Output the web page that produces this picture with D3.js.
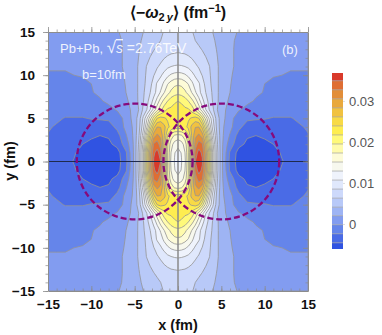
<!DOCTYPE html>
<html>
<head>
<meta charset="utf-8">
<script src="https://cdn.jsdelivr.net/npm/d3@7"></script>
<style>
  html, body { margin: 0; padding: 0; background: #fff; }
  svg { display: block; font-family: "Liberation Sans", Arial, sans-serif; }
</style>
</head>
<body>
<div id="chart"></div>
<script>
// values, upper right quadrant (the field is close to mirror symmetric)
const gridX = [0, .4, .8, 1.2, 1.6, 2, 2.4, 2.8, 3.2, 3.6, 4, 4.5, 5, 5.5, 6, 7, 8, 9, 10, 11, 12, 13, 14, 15];
const gridY = [0, 1, 2, 3, 4, 5, 6, 7, 8, 9, 10, 11, 12, 13, 14, 15];
const rows = [
  [.0118,.0128,.0145,.0195,.0268,.0349,.0368,.0352,.0305,.0239,.0151,.0072,.0028,-.0002,-.0030,-.0056,-.0060,-.0062,-.0060,-.0056,-.0047,-.0040,-.0036,-.0034],
  [.0122,.0130,.0150,.0195,.0262,.0336,.0358,.0345,.0298,.0232,.0150,.0072,.0028,.0000,-.0027,-.0054,-.0059,-.0060,-.0058,-.0053,-.0044,-.0038,-.0034,-.0032],
  [.0135,.0142,.0160,.0198,.0255,.0315,.0338,.0330,.0280,.0215,.0140,.0068,.0028,.0004,-.0012,-.0040,-.0050,-.0050,-.0049,-.0046,-.0040,-.0034,-.0030,-.0030],
  [.0165,.0170,.0185,.0215,.0265,.0300,.0310,.0295,.0250,.0185,.0120,.0062,.0028,.0010,-.0004,-.0032,-.0044,-.0046,-.0044,-.0040,-.0036,-.0032,-.0028,-.0025],
  [.0228,.0228,.0232,.0245,.0268,.0282,.0283,.0255,.0205,.0150,.0100,.0056,.0028,.0014,.0004,-.0018,-.0034,-.0034,-.0032,-.0032,-.0031,-.0029,-.0026,-.0022],
  [.0232,.0232,.0233,.0236,.0242,.0248,.0240,.0205,.0165,.0125,.0090,.0052,.0030,.0018,.0006,-.0014,-.0020,-.0022,-.0023,-.0025,-.0025,-.0025,-.0021,-.0018],
  [.0225,.0224,.0221,.0220,.0208,.0188,.0165,.0138,.0108,.0085,.0068,.0042,.0030,.0020,.0010,.0000,-.0008,-.0012,-.0015,-.0017,-.0017,-.0017,-.0014,-.0012],
  [.0217,.0214,.0207,.0195,.0180,.0162,.0138,.0115,.0095,.0078,.0062,.0044,.0033,.0024,.0016,.0006,.0002,-.0004,-.0008,-.0012,-.0013,-.0013,-.0011,-.0010],
  [.0188,.0185,.0178,.0165,.0150,.0132,.0115,.0098,.0085,.0072,.0060,.0044,.0034,.0026,.0020,.0010,.0005,.0001,-.0003,-.0007,-.0009,-.0009,-.0008,-.0007],
  [.0170,.0168,.0160,.0150,.0135,.0118,.0110,.0096,.0078,.0068,.0058,.0044,.0034,.0027,.0021,.0012,.0007,.0002,-.0002,-.0005,-.0006,-.0006,-.0005,-.0005],
  [.0138,.0136,.0132,.0124,.0114,.0104,.0094,.0084,.0074,.0066,.0057,.0044,.0034,.0028,.0022,.0014,.0009,.0005,.0002,-.0001,-.0002,-.0003,-.0003,-.0003],
  [.0110,.0109,.0107,.0103,.0097,.0089,.0083,.0077,.0071,.0064,.0056,.0044,.0034,.0028,.0023,.0016,.0011,.0007,.0004,.0002,.0000,-.0001,-.0001,-.0001],
  [.0093,.0092,.0091,.0088,.0084,.0079,.0074,.0069,.0064,.0058,.0052,.0042,.0034,.0028,.0023,.0016,.0012,.0009,.0006,.0004,.0003,.0002,.0001,.0001],
  [.0080,.0079,.0078,.0076,.0073,.0070,.0066,.0062,.0057,.0052,.0047,.0040,.0033,.0027,.0023,.0016,.0013,.0010,.0008,.0006,.0005,.0004,.0003,.0003],
  [.0075,.0074,.0073,.0071,.0067,.0063,.0059,.0055,.0051,.0047,.0044,.0038,.0032,.0027,.0023,.0017,.0014,.0011,.0009,.0007,.0006,.0005,.0004,.0004],
  [.0072,.0071,.0070,.0068,.0064,.0060,.0056,.0052,.0048,.0044,.0041,.0036,.0031,.0027,.0024,.0019,.0015,.0012,.0010,.0008,.0007,.0006,.0005,.0005]
];

// contour levels and the colour of the band between them, low to high
const levels = [-.0046,-.0024,-.0002,.0020,.0041,.0063,.0085,.0107,.0129,.0151,.0173,.0195,.0217,.0239,.0261,.0283,.0305,.0327,.0349];
const bandColors = ["#3053e2","#4a6be6","#6585ea","#829cf0","#9eb4f4","#b8c9f8","#cdd9fb","#e0e8fc","#eff3fc","#f7f8ee","#fdfbd8","#fffbac","#fff97a","#feed50","#f8da46","#f1c240","#e9a93c","#e28e39","#df6e34","#d93a2b"];
const barRange = [-.0061, .0368];
const barTicks = [0, .01, .02, .03];

const axisTicks = [-15, -10, -5, 0, 5, 10, 15];
const minorTicks = d3.range(-15, 16);

const nucleusCenters = [-5, 5];
const nucleusRadius = 6.68;

const width = 382, height = 335;
const plot = { left: 48, right: 308, top: 32, bottom: 291 };

const svg = d3.select("#chart").append("svg")
  .attr("width", width)
  .attr("height", height);

svg.append("clipPath").attr("id", "plotClip")
  .append("rect")
  .attr("x", plot.left).attr("y", plot.top)
  .attr("width", plot.right - plot.left).attr("height", plot.bottom - plot.top);

const x = d3.scaleLinear().domain([-15, 15]).range([plot.left, plot.right]);
const y = d3.scaleLinear().domain([-15, 15]).range([plot.bottom, plot.top]);

// mirror the quadrant into the full grid
const fullX = gridX.slice(1).reverse().map(d => -d).concat(gridX);
const fullY = gridY.slice(1).reverse().map(d => -d).concat(gridY);
const fullRows = rows.slice(1).reverse().concat(rows)
  .map(r => r.slice(1).reverse().concat(r));
const field = fullRows.flat();

const indexX = d3.scaleLinear().domain(d3.range(fullX.length)).range(fullX).clamp(true);
const indexY = d3.scaleLinear().domain(d3.range(fullY.length)).range(fullY).clamp(true);

// contours come back in grid cells, the grid is not uniform so go through the data values
const gridPath = d3.geoPath(d3.geoTransform({
  point(cx, cy) {
    this.stream.point(x(indexX(cx - 0.5)), y(indexY(cy - 0.5)));
  }
}));

const bands = d3.contours()
  .size([fullX.length, fullY.length])
  .thresholds(levels)(field);

const plotG = svg.append("g")
  .attr("clip-path", "url(#plotClip)")
  .style("filter", "blur(0.45px)");

plotG.append("rect")
  .attr("x", plot.left).attr("y", plot.top)
  .attr("width", plot.right - plot.left).attr("height", plot.bottom - plot.top)
  .attr("fill", bandColors[0]);

plotG.selectAll("path.band")
  .data(bands)
  .join("path")
  .attr("class", "band")
  .attr("d", gridPath)
  .attr("fill", (d, i) => bandColors[i + 1])
  .attr("stroke", "#949494")
  .attr("stroke-width", 0.8);

// cross through the origin
plotG.append("line")
  .attr("x1", x(0)).attr("x2", x(0))
  .attr("y1", plot.top).attr("y2", plot.bottom)
  .attr("stroke", "#8a8a8a").attr("stroke-width", 1.5);
plotG.append("line")
  .attr("x1", plot.left).attr("x2", plot.right)
  .attr("y1", y(0)).attr("y2", y(0))
  .attr("stroke", "#1f2a4d").attr("stroke-width", 1);

// the two nuclei
plotG.selectAll("circle.nucleus")
  .data(nucleusCenters)
  .join("circle")
  .attr("class", "nucleus")
  .attr("cx", d => x(d))
  .attr("cy", y(0))
  .attr("r", x(nucleusRadius) - x(0))
  .attr("fill", "none")
  .attr("stroke", "#860a7c")
  .attr("stroke-width", 2.3)
  .attr("stroke-dasharray", "6 3");

// frame with ticks on all four sides
const fmt = d => d < 0 ? "\u2212" + Math.abs(d) : String(d);
function drawAxis(axisFn, scale, tx, ty, labels) {
  const sign = (axisFn === d3.axisLeft || axisFn === d3.axisTop) ? -1 : 1;
  svg.append("g")
    .attr("transform", `translate(${tx},${ty})`)
    .call(axisFn(scale).tickValues(minorTicks).tickSizeInner(-sign * 2.5).tickSizeOuter(0).tickFormat(""))
    .call(g => g.select(".domain").attr("stroke", "#8c8c8c"))
    .call(g => g.selectAll("line").attr("stroke", "#8c8c8c").attr("stroke-width", 0.7));
  const major = svg.append("g")
    .attr("transform", `translate(${tx},${ty})`)
    .call(axisFn(scale).tickValues(axisTicks).tickSizeInner(-sign * 5).tickSizeOuter(0).tickPadding(labels ? 8 : 0)
      .tickFormat(labels ? fmt : ""));
  major.select(".domain").remove();
  major.selectAll("line").attr("stroke", "#8c8c8c").attr("stroke-width", 0.8);
  major.selectAll("text")
    .attr("fill", "#111")
    .style("font-family", '"Liberation Sans", Arial, sans-serif')
    .style("font-size", "13.5px")
    .style("font-weight", "bold");
}
drawAxis(d3.axisBottom, x, 0, plot.bottom, true);
drawAxis(d3.axisTop, x, 0, plot.top, false);
drawAxis(d3.axisLeft, y, plot.left, 0, true);
drawAxis(d3.axisRight, y, plot.right, 0, false);

// title
const title = svg.append("text")
  .attr("x", 178).attr("y", 18)
  .attr("text-anchor", "middle")
  .attr("fill", "#111")
  .style("font-size", "16px")
  .style("font-weight", "bold");
title.append("tspan").text("\u27e8\u2212");
title.append("tspan").style("font-style", "italic").text("\u03c9");
title.append("tspan").attr("dy", 3).style("font-size", "11px").text("2\u2009");
title.append("tspan").style("font-size", "11px").style("font-style", "italic").text("y");
title.append("tspan").attr("dy", -3).text("\u27e9 (fm");
title.append("tspan").attr("dy", -6).style("font-size", "11px").text("\u22121");
title.append("tspan").attr("dy", 6).text(")");

// axis titles
svg.append("text")
  .attr("x", 178).attr("y", 330)
  .attr("text-anchor", "middle")
  .attr("fill", "#111")
  .style("font-size", "14.5px").style("font-weight", "bold")
  .text("x (fm)");
svg.append("text")
  .attr("transform", "translate(15,161) rotate(-90)")
  .attr("text-anchor", "middle")
  .attr("fill", "#111")
  .style("font-size", "14.5px").style("font-weight", "bold")
  .text("y (fm)");

// labels inside the plot
const note = svg.append("g")
  .attr("fill", "#fff").attr("fill-opacity", 0.88)
  .style("font-size", "13px");
const beam = note.append("text").attr("x", 60).attr("y", 53);
beam.append("tspan").text("Pb+Pb, ");
beam.append("tspan").style("font-size", "17px").text("\u221a");
beam.append("tspan").style("font-size", "14px").style("font-style", "italic").style("text-decoration", "overline").text("s");
beam.append("tspan").style("font-size", "14px").text(" =2.76TeV");
note.append("text").attr("x", 82).attr("y", 79).text("b=10fm");
note.append("text").attr("x", 282).attr("y", 54).text("(b)");

// colour bar
const bar = { left: 332, right: 343, top: 73, bottom: 249 };
const barY = d3.scaleLinear().domain(barRange).range([bar.bottom, bar.top]);
const edges = [barRange[0]].concat(levels, [barRange[1]]);

const barG = svg.append("g").style("filter", "blur(0.3px)");
barG.selectAll("rect")
  .data(bandColors)
  .join("rect")
  .attr("x", bar.left)
  .attr("width", bar.right - bar.left)
  .attr("y", (d, i) => barY(edges[i + 1]))
  .attr("height", (d, i) => barY(edges[i]) - barY(edges[i + 1]))
  .attr("fill", d => d);
barG.selectAll("line")
  .data(levels)
  .join("line")
  .attr("x1", bar.left).attr("x2", bar.right)
  .attr("y1", d => barY(d)).attr("y2", d => barY(d))
  .attr("stroke", "#a0a0a0").attr("stroke-width", 0.7);

const barAxis = svg.append("g")
  .attr("transform", `translate(${bar.right},0)`)
  .call(d3.axisRight(barY).tickValues(barTicks).tickSize(2).tickPadding(4)
    .tickFormat(d => d === 0 ? "0" : d3.format(".2f")(d)));
barAxis.select(".domain").remove();
barAxis.selectAll("line").attr("stroke", "#ddd");
barAxis.selectAll("text")
  .attr("fill", "#555")
  .style("font-family", '"Liberation Sans", Arial, sans-serif')
  .style("font-size", "13px");
</script>
</body>
</html>
